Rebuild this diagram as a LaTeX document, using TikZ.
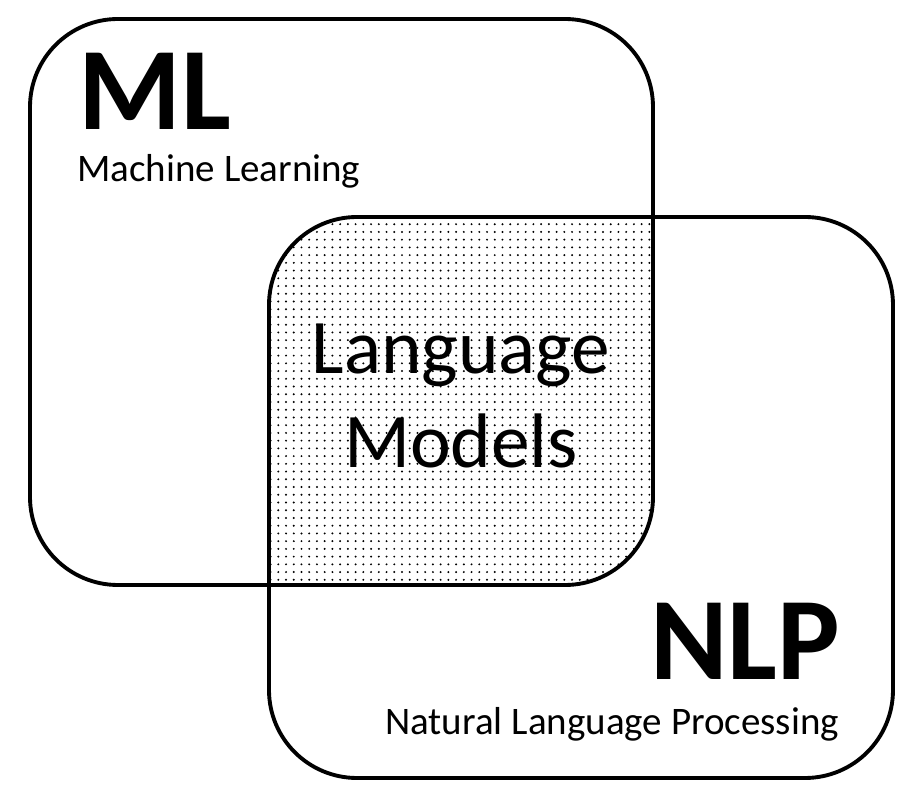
\documentclass[tikz,border=0pt]{standalone}
\usepackage{fontspec}
\setmainfont{Carlito}
\usetikzlibrary{patterns.meta}

\begin{document}
\begin{tikzpicture}[
    x=0.02cm, y=-0.02cm,
    % Stílus a lekerekített keretekhez
    setbox/.style={line width=2.2pt, rounded corners=1.76cm},
    % Nagy rövidítések és alcímek
    bigtag/.style={anchor=base west, inner sep=0pt, font=\fontsize{67}{70}\selectfont\bfseries},
    subtag/.style={anchor=base west, inner sep=0pt, font=\fontsize{22.2}{26}\selectfont},
    midtag/.style={align=center, inner sep=0pt, font=\fontsize{44}{54}\selectfont}
]
    \useasboundingbox (0,0) rectangle (921,804);

    % Keretek sarkai
    \coordinate (mlA) at (30,19);
    \coordinate (mlB) at (653,585);
    \coordinate (nlpA) at (269,217);
    \coordinate (nlpB) at (893,778);

    % Metszet pöttyözve
    \begin{scope}
        \clip[rounded corners=1.76cm] (mlA) rectangle (mlB);
        \fill[pattern={Dots[distance=4.4pt, radius=0.62pt]}, rounded corners=1.76cm]
            (nlpA) rectangle (nlpB);
    \end{scope}

    % Keretek
    \draw[setbox] (mlA) rectangle (mlB);
    \draw[setbox] (nlpA) rectangle (nlpB);

    % Feliratok
    \node[bigtag] (ml) at (78,130) {ML};
    \node[subtag] (mlsub) at (77,182) {Machine Learning};
    \node[midtag] (lm) at (461,396) {Language\\Models};
    \node[bigtag] (nlp) at (650,680) {NLP};
    \node[subtag] (nlpsub) at (385,735) {Natural Language Processing};
\end{tikzpicture}
\end{document}
